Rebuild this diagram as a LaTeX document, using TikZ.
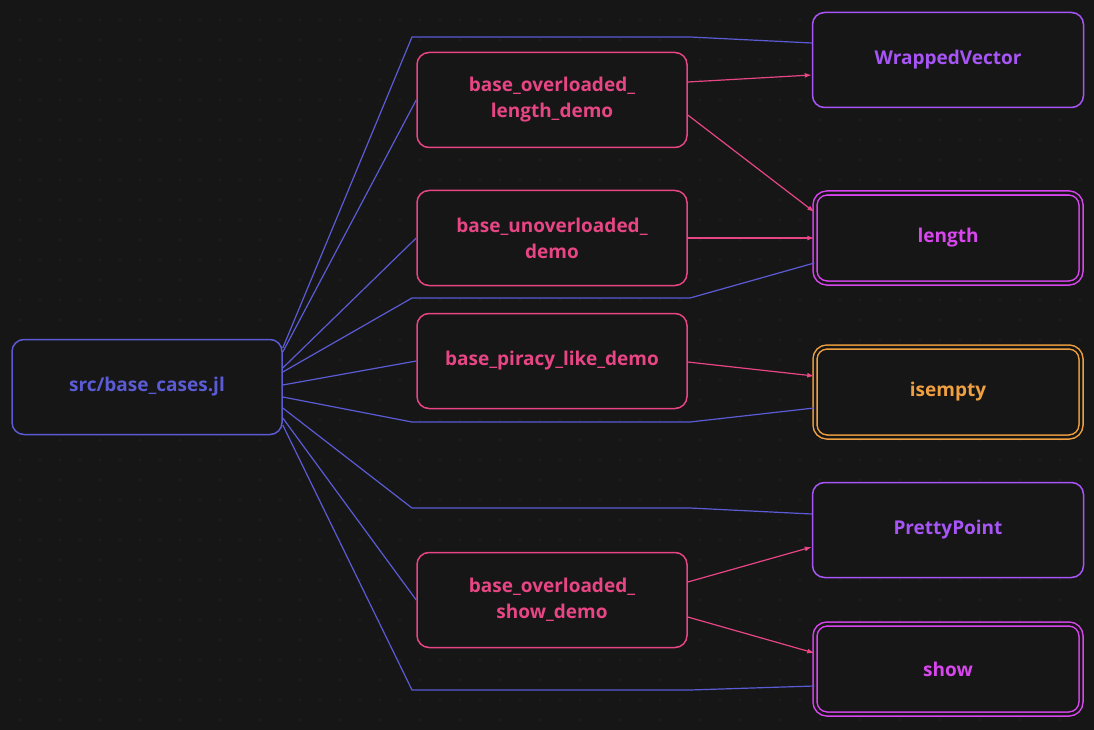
\documentclass[tikz,border=0pt]{standalone}
\usepackage{fontspec}
\setmainfont{Open Sans}
\usetikzlibrary{arrows.meta}
\definecolor{bgc}{HTML}{161616}
\definecolor{srcc}{HTML}{5B5BD6}
\definecolor{democ}{HTML}{E84585}
\definecolor{typec}{HTML}{A855F7}
\definecolor{funcc}{HTML}{D946EF}
\definecolor{warnc}{HTML}{F0A040}
\begin{document}
\begin{tikzpicture}[
  x=1pt, y=-1pt,
  box/.style={rectangle, rounded corners=12pt, minimum width=270pt, minimum height=95pt, inner sep=0pt, fill=bgc, line width=1.5pt, font=\bfseries\fontsize{19}{26}\selectfont, align=center},
  src_box/.style={box, draw=srcc, text=srcc},
  demo_box/.style={box, draw=democ, text=democ},
  type_box/.style={box, draw=typec, text=typec},
  func_box/.style={box, draw=funcc, text=funcc, double=bgc, double distance=2.5pt},
  warn_box/.style={box, draw=warnc, text=warnc, double=bgc, double distance=2.5pt},
  uses/.style={draw=srcc, line width=1.2pt},
  calls/.style={draw=democ, line width=1.2pt, -{Latex[length=7pt,width=5pt]}},
]
\fill[bgc] (0,0) rectangle (1094,730);
\foreach \i in {20,40,...,1080}
  \foreach \j in {20,40,...,720}
    \fill[white, opacity=0.07] (\i,\j) circle (0.8pt);
\node (src) [src_box] at (147,387) {src/base\_cases.jl};
\node (lendemo) [demo_box] at (552,100) {base\_overloaded\_\\length\_demo};
\node (unodemo) [demo_box] at (552,238) {base\_unoverloaded\_\\demo};
\node (pirdemo) [demo_box] at (552,361) {base\_piracy\_like\_demo};
\node (shwdemo) [demo_box] at (552,600) {base\_overloaded\_\\show\_demo};
\node (wrapped) [type_box, minimum width=271pt] at (948,60) {WrappedVector};
\node (length) [func_box, minimum width=266pt, minimum height=90pt] at (948,238) {length};
\node (isempty) [warn_box, minimum width=266pt, minimum height=90pt] at (948,392) {isempty};
\node (pretty) [type_box, minimum width=271pt] at (948,530) {PrettyPoint};
\node (show) [func_box, minimum width=266pt, minimum height=90pt] at (948,669) {show};
% file to everything it defines
\draw[uses] (src.east |- 0,348) -- (412,37) -- (690,37) -- (wrapped.west |- 0,43);
\draw[uses] (src.east |- 0,352) -- (lendemo.west);
\draw[uses] (src.east |- 0,368) -- (unodemo.west);
\draw[uses] (src.east |- 0,372) -- (412,298) -- (690,298) -- (length.west |- 0,263);
\draw[uses] (src.east |- 0,385) -- (pirdemo.west);
\draw[uses] (src.east |- 0,397) -- (412,422) -- (690,422) -- (isempty.west |- 0,408);
\draw[uses] (src.east |- 0,408) -- (412,508) -- (690,508) -- (pretty.west |- 0,514);
\draw[uses] (src.east |- 0,418) -- (shwdemo.west);
\draw[uses] (src.east |- 0,425) -- (412,690) -- (690,690) -- (show.west |- 0,686);
% demo calls
\draw[calls] (lendemo.east |- 0,82) -- (wrapped.west |- 0,75);
\draw[calls] (lendemo.east |- 0,115) -- (length.west |- 0,212);
\draw[calls] (unodemo.east) -- (length.west);
\draw[calls] (pirdemo.east |- 0,362) -- (isempty.west |- 0,376);
\draw[calls] (shwdemo.east |- 0,582) -- (pretty.west |- 0,547);
\draw[calls] (shwdemo.east |- 0,617) -- (show.west |- 0,653);
\end{tikzpicture}
\end{document}
